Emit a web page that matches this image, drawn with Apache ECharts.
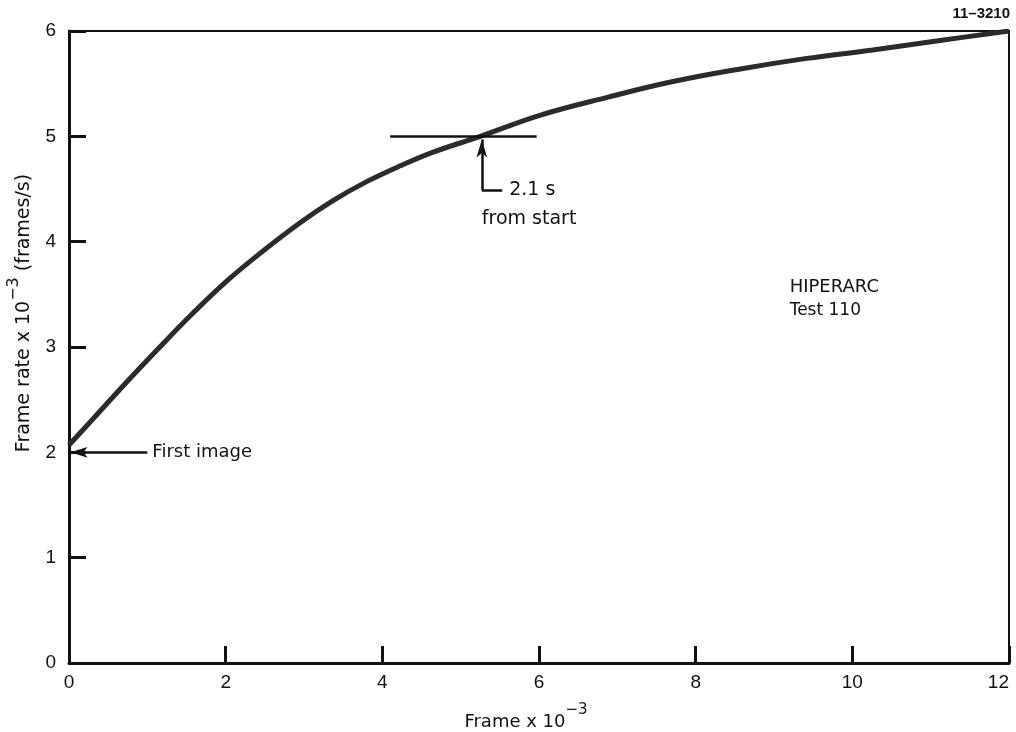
<!DOCTYPE html>
<html>
<head>
<meta charset="utf-8">
<script src="https://cdn.jsdelivr.net/npm/echarts@6/dist/echarts.min.js"></script>
<style>
  html, body { margin: 0; padding: 0; background: #fff; }
  #chart { width: 1016px; height: 732px; }
</style>
</head>
<body>
<div id="chart"></div>
<script>
// Frame number (thousands) and frame rate (thousands of frames/s), HIPERARC test 110
const frameK = [0, 0.31, 0.74, 1.16, 1.58, 2.02, 2.44, 2.95, 3.37, 3.8, 4.23, 4.65, 5.25, 6.01, 6.87, 7.71, 8.57, 9.42, 10.26, 11.12, 12];
const rateK  = [2.07, 2.32, 2.67, 3.0, 3.32, 3.63, 3.89, 4.18, 4.39, 4.57, 4.72, 4.85, 5.0, 5.2, 5.37, 5.52, 5.64, 5.74, 5.82, 5.91, 6.0];

const xTicks = [0, 2, 4, 6, 8, 10, 12];
const yTicks = [0, 1, 2, 3, 4, 5, 6];

// Reference level at 5000 frames/s and the frame where it is reached
const refLevel = 5;
const refSpan = [4.1, 5.97];
const reachFrame = 5.27;
const firstRate = 2;

const font = '"Liberation Sans", Arial, Helvetica, sans-serif';
const wide = '"DejaVu Sans", "Liberation Sans", sans-serif';
const chart = echarts.init(document.getElementById('chart'));

const points = frameK.map((x, i) => [x, rateK[i]]);

const titleRich = (size, supSize) => ({
  a: { fontSize: size, fontFamily: wide, fill: '#111', lineHeight: 28, verticalAlign: 'bottom' },
  s: { fontSize: supSize, fontFamily: wide, fill: '#111', lineHeight: 28, verticalAlign: 'top' }
});

chart.setOption({
  animation: false,
  backgroundColor: '#fff',
  grid: {
    left: 69, right: 7, top: 31, bottom: 69,
    outerBoundsMode: 'none', containLabel: false,
    show: true, borderColor: '#111', borderWidth: 2
  },
  xAxis: {
    type: 'value', min: xTicks[0], max: xTicks[xTicks.length - 1], interval: 2,
    axisLine: { show: true, lineStyle: { color: '#111', width: 3 } },
    axisTick: { show: true, inside: true, length: 17, lineStyle: { color: '#111', width: 3 } },
    axisLabel: { color: '#111', fontSize: 19, fontFamily: font, margin: 10, alignMaxLabel: 'right' },
    splitLine: { show: false }
  },
  yAxis: {
    type: 'value', min: yTicks[0], max: yTicks[yTicks.length - 1], interval: 1,
    axisLine: { show: true, lineStyle: { color: '#111', width: 3 } },
    axisTick: { show: true, inside: true, length: 17, lineStyle: { color: '#111', width: 3 } },
    axisLabel: { color: '#111', fontSize: 19, fontFamily: font, margin: 13 },
    splitLine: { show: false }
  },
  graphic: [
    {
      type: 'text', right: 6, top: 6,
      style: { text: '11\u20133210', font: 'bold 15px ' + font, fill: '#111' }
    },
    {
      type: 'text', x: 526, y: 717,
      style: {
        text: '{a|Frame x 10}{s|\u22123}',
        align: 'center', verticalAlign: 'middle',
        rich: titleRich(18, 15)
      }
    },
    {
      type: 'text', x: 20, y: 313, rotation: Math.PI / 2,
      style: {
        text: '{a|Frame rate x 10}{s|\u22123}{a| (frames/s)}',
        align: 'center', verticalAlign: 'middle',
        rich: titleRich(19, 16)
      }
    }
  ],
  series: [
    {
      type: 'line',
      data: points,
      smooth: 0.4,
      showSymbol: false,
      lineStyle: { color: '#2b2b2b', width: 5 },
      z: 3
    },
    {
      type: 'line',
      data: [],
      silent: true,
      markLine: {
        silent: true,
        animation: false,
        lineStyle: { color: '#111', width: 2.5, type: 'solid' },
        label: { show: false },
        data: [
          // 5000 frames/s level
          [
            { coord: [refSpan[0], refLevel], symbol: 'none' },
            { coord: [refSpan[1], refLevel], symbol: 'none' }
          ],
          // pointer up to the crossing
          [
            { coord: [reachFrame, 4.49], symbol: 'none' },
            { coord: [reachFrame, refLevel - 0.03], symbol: 'arrow', symbolSize: [8, 18] }
          ],
          [
            { coord: [reachFrame, 4.49], symbol: 'none' },
            {
              coord: [5.53, 4.49], symbol: 'none',
              label: {
                show: true, position: 'end', distance: 7,
                formatter: '2.1 s', color: '#111', fontSize: 19, fontFamily: wide
              }
            }
          ],
          // first image pointer
          [
            { coord: [0.02, firstRate], symbol: 'arrow', symbolSize: [8, 17] },
            {
              coord: [1.0, firstRate], symbol: 'none',
              label: {
                show: true, position: 'end', distance: 5,
                formatter: 'First image', color: '#111', fontSize: 18, fontFamily: wide
              }
            }
          ]
        ]
      },
      markPoint: {
        silent: true,
        symbol: 'circle', symbolSize: 0,
        data: [
          {
            coord: [5.27, 4.21],
            label: { show: true, position: 'right', distance: 0, formatter: 'from start', color: '#111', fontSize: 19, fontFamily: wide }
          },
          {
            coord: [9.2, 3.57],
            label: { show: true, position: 'right', distance: 0, formatter: 'HIPERARC', color: '#111', fontSize: 18, fontFamily: wide }
          },
          {
            coord: [9.2, 3.35],
            label: { show: true, position: 'right', distance: 0, formatter: 'Test 110', color: '#111', fontSize: 17, fontFamily: wide }
          }
        ]
      }
    }
  ]
});
</script>
</body>
</html>
